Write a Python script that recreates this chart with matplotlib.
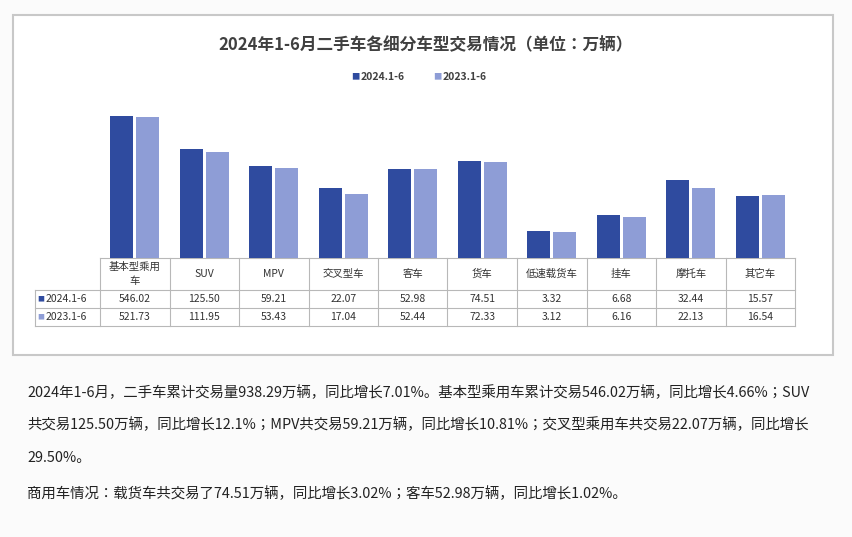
import matplotlib
matplotlib.use("Agg")
import matplotlib.pyplot as plt
from matplotlib.patches import Rectangle
from matplotlib.lines import Line2D
from matplotlib import font_manager
import numpy as np

cjk = [f.name for f in font_manager.fontManager.ttflist if "CJK" in f.name]
pref = [n for n in ["Noto Sans CJK SC", "Noto Sans CJK JP"] if n in cjk] + cjk
plt.rcParams["font.family"] = (pref[:1] if pref else []) + ["DejaVu Sans"]

categories = ["基本型乘用\n车", "SUV", "MPV", "交叉型车", "客车", "货车", "低速载货车", "挂车", "摩托车", "其它车"]
series_names = ["2024.1-6", "2023.1-6"]
v2024 = [546.02, 125.50, 59.21, 22.07, 52.98, 74.51, 3.32, 6.68, 32.44, 15.57]
v2023 = [521.73, 111.95, 53.43, 17.04, 52.44, 72.33, 3.12, 6.16, 22.13, 16.54]
labels2024 = ["546.02", "125.50", "59.21", "22.07", "52.98", "74.51", "3.32", "6.68", "32.44", "15.57"]
labels2023 = ["521.73", "111.95", "53.43", "17.04", "52.44", "72.33", "3.12", "6.16", "22.13", "16.54"]
title = "2024年1-6月二手车各细分车型交易情况（单位：万辆）"
body_lines = [
    "2024年1-6月，二手车累计交易量938.29万辆，同比增长7.01%。基本型乘用车累计交易546.02万辆，同比增长4.66%；SUV",
    "共交易125.50万辆，同比增长12.1%；MPV共交易59.21万辆，同比增长10.81%；交叉型乘用车共交易22.07万辆，同比增长",
    "29.50%。",
    "商用车情况：载货车共交易了74.51万辆，同比增长3.02%；客车52.98万辆，同比增长1.02%。",
]

W, H = 852, 537
c1, c2 = "#2f4b9f", "#8e9dd6"
fig = plt.figure(figsize=(W/100, H/100), dpi=100, facecolor="#fbfbfb")

def fx(x): return x / W
def fy(y): return 1 - y / H

fig.patches.append(Rectangle((fx(13), fy(355)), fx(820), fy(15)-fy(355), transform=fig.transFigure,
                             facecolor="white", edgecolor="#c8c8c8", lw=1.5, zorder=-5))

ax = fig.add_axes([fx(100), fy(258), fx(795)-fx(100), fy(100)-fy(258)])
ax.set_zorder(2)
ax.set_facecolor("none")
x = np.arange(len(categories))
bw = 0.33
ax.set_yscale("log")
ax.bar(x - bw/2 - 0.02, v2024, bw, color=c1)
ax.bar(x + bw/2 + 0.02, v2023, bw, color=c2)
ax.set_ylim(1, 1120)
ax.set_xlim(-0.5, len(categories) - 0.5)
ax.axis("off")

fig.text(0.5, fy(45), title, ha="center", va="center", fontsize=12, fontweight="bold", color="#404040")
fig.text(fx(355), fy(77), "■", color=c1, fontsize=6, ha="center", va="center")
fig.text(fx(361), fy(77), series_names[0], fontsize=7.5, color="#404040", va="center", fontweight="bold")
fig.text(fx(437), fy(77), "■", color=c2, fontsize=6, ha="center", va="center")
fig.text(fx(443), fy(77), series_names[1], fontsize=7.5, color="#404040", va="center", fontweight="bold")

gc = "#b8b8b8"
colw = (795 - 100) / len(categories)
rows_y = [258, 290, 308, 326]
def hline(x0, x1, y): fig.add_artist(Line2D([fx(x0), fx(x1)], [fy(y), fy(y)], color=gc, lw=0.8))
def vline(x, y0, y1): fig.add_artist(Line2D([fx(x), fx(x)], [fy(y0), fy(y1)], color=gc, lw=0.8))
hline(100, 795, 258)
for y in rows_y[1:]:
    hline(35, 795, y)
vline(35, 290, 326)
for i in range(len(categories) + 1):
    vline(100 + i*colw, 258, 326)
for i, c in enumerate(categories):
    cx = 100 + (i + 0.5) * colw
    fig.text(fx(cx), fy(274), c, ha="center", va="center", fontsize=7.5, color="#333333", linespacing=1.5)
    fig.text(fx(cx), fy(299), labels2024[i], ha="center", va="center", fontsize=7.5, color="#333333")
    fig.text(fx(cx), fy(317), labels2023[i], ha="center", va="center", fontsize=7.5, color="#333333")
for nm, col, y in [(series_names[0], c1, 299), (series_names[1], c2, 317)]:
    fig.text(fx(41), fy(y), "■", color=col, fontsize=5, ha="center", va="center")
    fig.text(fx(46), fy(y), nm, fontsize=7.5, color="#333333", va="center")

for txt, y in zip(body_lines, [393, 425, 458, 494]):
    fig.text(fx(27), fy(y), txt, fontsize=10.4, color="#222222", va="center")

fig.savefig("out.png", dpi=100, facecolor=fig.get_facecolor())
